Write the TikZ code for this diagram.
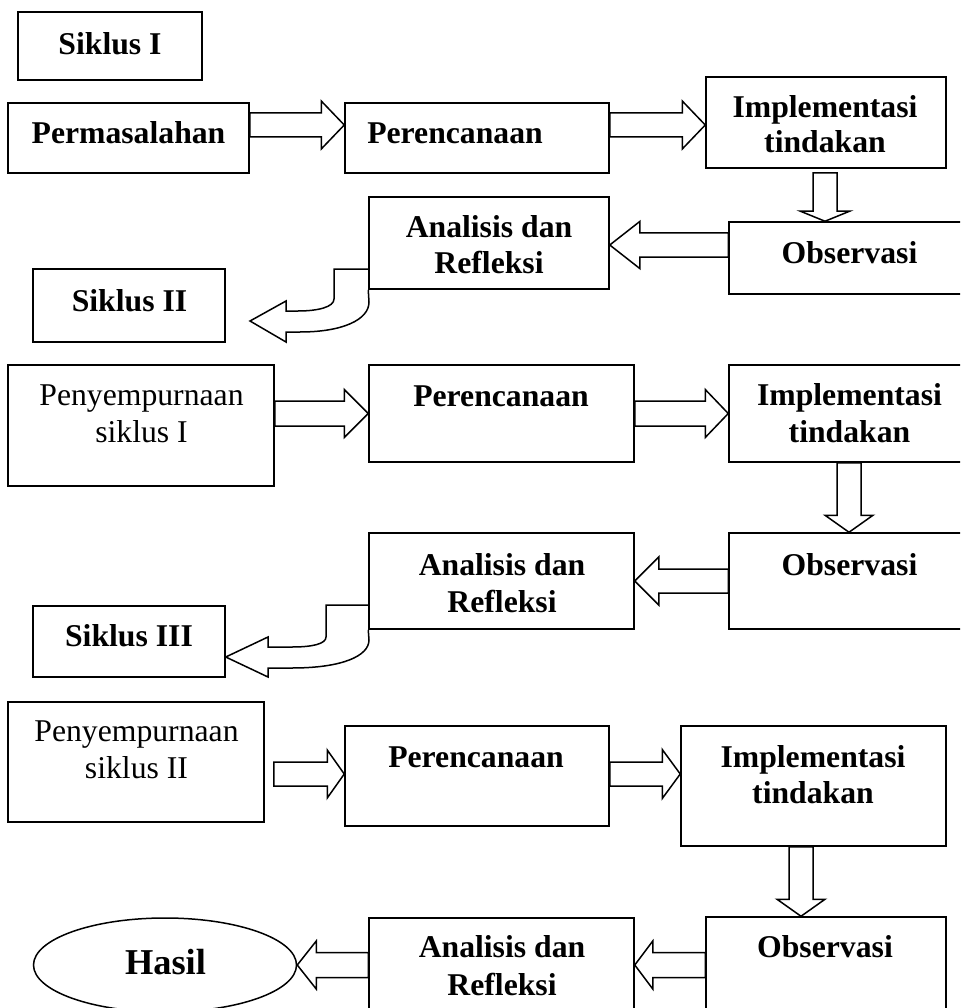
\documentclass[tikz,border=0pt]{standalone}
\usepackage{fontspec}
\setmainfont{Liberation Serif}
\usetikzlibrary{calc,fit,shapes.geometric}
\tikzset{
  box/.style={draw, line width=1.5pt, rectangle, inner sep=0pt},
  oval/.style={draw, line width=1.5pt, ellipse, inner sep=0pt, minimum width=263pt, minimum height=94pt},
  barrow/.style={draw, fill=white, line width=1.5pt, line join=miter},
  lbl/.style={anchor=base, align=center, inner sep=0pt, font=\fontsize{31.7}{37}\selectfont\bfseries},
  lblr/.style={anchor=base, align=center, inner sep=0pt, font=\fontsize{31.7}{37}\selectfont},
}
% right-pointing block arrow: start, end, shaft half, head half, head length
\newcommand\rarr[5]{\draw[barrow] let \p1=#1, \p2=#2 in
  (\x1,\y1+#3) -- (\x2-#5,\y1+#3) -- (\x2-#5,\y1+#4) -- (\x2,\y1) -- (\x2-#5,\y1-#4) -- (\x2-#5,\y1-#3) -- (\x1,\y1-#3) -- cycle;}
% left-pointing block arrow
\newcommand\larr[5]{\draw[barrow] let \p1=#1, \p2=#2 in
  (\x1,\y1+#3) -- (\x2+#5,\y1+#3) -- (\x2+#5,\y1+#4) -- (\x2,\y1) -- (\x2+#5,\y1-#4) -- (\x2+#5,\y1-#3) -- (\x1,\y1-#3) -- cycle;}
% downward block arrow
\newcommand\darr[5]{\draw[barrow] let \p1=#1, \p2=#2 in
  (\x1-#3,\y1) -- (\x1-#3,\y2+#5) -- (\x1-#4,\y2+#5) -- (\x1,\y2) -- (\x1+#4,\y2+#5) -- (\x1+#3,\y2+#5) -- (\x1+#3,\y1) -- cycle;}
\begin{document}
\begin{tikzpicture}[x=1pt, y=-1pt]
\useasboundingbox (0,0) rectangle (960,1008);
\clip (0,0) rectangle (960,1008);
% ---- boxes ----
\node[box, fit={(18,12) (202,80)}] (s1) {};
\node[box, fit={(8,103) (249,173)}] (perm) {};
\node[box, fit={(345,103) (609,173)}] (per1) {};
\node[box, fit={(706,77) (946,168)}] (imp1) {};
\node[box, fit={(729,222) (966,294)}] (obs1) {};
\node[box, fit={(369,197) (609,289)}] (ana1) {};
\node[box, fit={(33,269) (225,342)}] (s2) {};
\node[box, fit={(8,365) (274,486)}] (pen1) {};
\node[box, fit={(369,365) (634,462)}] (per2) {};
\node[box, fit={(729,365) (966,462)}] (imp2) {};
\node[box, fit={(729,533) (966,629)}] (obs2) {};
\node[box, fit={(369,533) (634,629)}] (ana2) {};
\node[box, fit={(33,606) (225,677)}] (s3) {};
\node[box, fit={(8,702) (264,822)}] (pen2) {};
\node[box, fit={(345,726) (609,826)}] (per3) {};
\node[box, fit={(681,726) (946,846)}] (imp3) {};
\node[box, fit={(706,917) (946,1016)}] (obs3) {};
\node[box, fit={(369,918) (634,1016)}] (ana3) {};
\node[oval] (hasil) at (165,965) {};
% ---- labels (two-line labels: base = last line) ----
\node[lbl] (ts1) at (110,55) {Siklus I};
\node[lbl] (tperm) at (128.5,144) {Permasalahan};
\node[lbl] (tper1) at (455,144) {Perencanaan};
\node[lbl] (timp1) at (825,153) {Implementasi\\[-2pt]tindakan};
\node[lbl] (tobs1) at (849.5,263) {Observasi};
\node[lbl] (tana1) at (489,273) {Analisis dan\\[-1pt]Refleksi};
\node[lbl] (ts2) at (129.5,311) {Siklus II};
\node[lblr] (tpen1) at (141.5,442) {Penyempurnaan\\siklus I};
\node[lbl] (tper2) at (501,406) {Perencanaan};
\node[lbl] (timp2) at (849.5,442) {Implementasi\\tindakan};
\node[lbl] (tobs2) at (849.5,575) {Observasi};
\node[lbl] (tana2) at (502,612) {Analisis dan\\Refleksi};
\node[lbl] (ts3) at (129,646) {Siklus III};
\node[lblr] (tpen2) at (136.5,778) {Penyempurnaan\\siklus II};
\node[lbl] (tper3) at (476,767) {Perencanaan};
\node[lbl] (timp3) at (813,803) {Implementasi\\[-1pt]tindakan};
\node[lbl] (tobs3) at (825,957) {Observasi};
\node[lbl] (tana3) at (502,995) {Analisis dan\\[1pt]Refleksi};
\node[anchor=base, inner sep=0pt, font=\fontsize{36.4}{40}\selectfont\bfseries] (thasil) at (165.5,974) {Hasil};
% ---- block arrows: cycle I ----
\rarr{(perm.east |- 0,125)}{(per1.west |- 0,125)}{12pt}{24pt}{23pt}
\rarr{(per1.east |- 0,125)}{(imp1.west |- 0,125)}{12pt}{24pt}{23pt}
\darr{(825,173)}{(obs1.north -| 825,0)}{12pt}{24.5pt}{10pt}
\larr{(obs1.west |- 0,245)}{(ana1.east |- 0,245)}{12pt}{23.5pt}{30pt}
% curved arrow to Siklus II
\coordinate (c1) at (250,321);
\draw[barrow, fill=none] (ana1.west |- 0,269) -- (334,269) -- (334,299)
  .. controls (334,307) and (318,311) .. (298,311) -- (286,311) -- (286,301) -- (c1)
  -- (286,342) -- (286,332) -- (300,332)
  .. controls (342,332) and (369,320) .. (369,302) -- (ana1.south west);
% ---- cycle II ----
\rarr{(pen1.east |- 0,413.5)}{(per2.west |- 0,413.5)}{12.5pt}{24pt}{24pt}
\rarr{(per2.east |- 0,413.5)}{(imp2.west |- 0,413.5)}{12.5pt}{24pt}{23pt}
\darr{(imp2.south -| 849,0)}{(obs2.north -| 849,0)}{12pt}{24pt}{17pt}
\larr{(obs2.west |- 0,581)}{(ana2.east |- 0,581)}{12pt}{24pt}{24pt}
% curved arrow to Siklus III
\draw[barrow, fill=none] (ana2.west |- 0,605) -- (326,605) -- (326,637)
  .. controls (326,644) and (312,647) .. (292,647) -- (268,647) -- (268,637) -- (s3.east |- 0,657)
  -- (268,677) -- (268,668) -- (292,668)
  .. controls (342,668) and (369,656) .. (369,640) -- (ana2.south west);
% ---- cycle III ----
\rarr{($(pen2.east |- 0,774)+(9,0)$)}{(per3.west |- 0,774)}{12pt}{24pt}{17pt}
\rarr{(per3.east |- 0,774)}{(imp3.west |- 0,774)}{12pt}{24.5pt}{18pt}
\darr{(imp3.south -| 801,0)}{(obs3.north -| 801,0)}{12pt}{24pt}{17pt}
\larr{(obs3.west |- 0,965)}{(ana3.east |- 0,965)}{12.5pt}{24pt}{18pt}
\larr{(ana3.west |- 0,965)}{(hasil.east)}{12.5pt}{24pt}{19pt}
\end{tikzpicture}
\end{document}
